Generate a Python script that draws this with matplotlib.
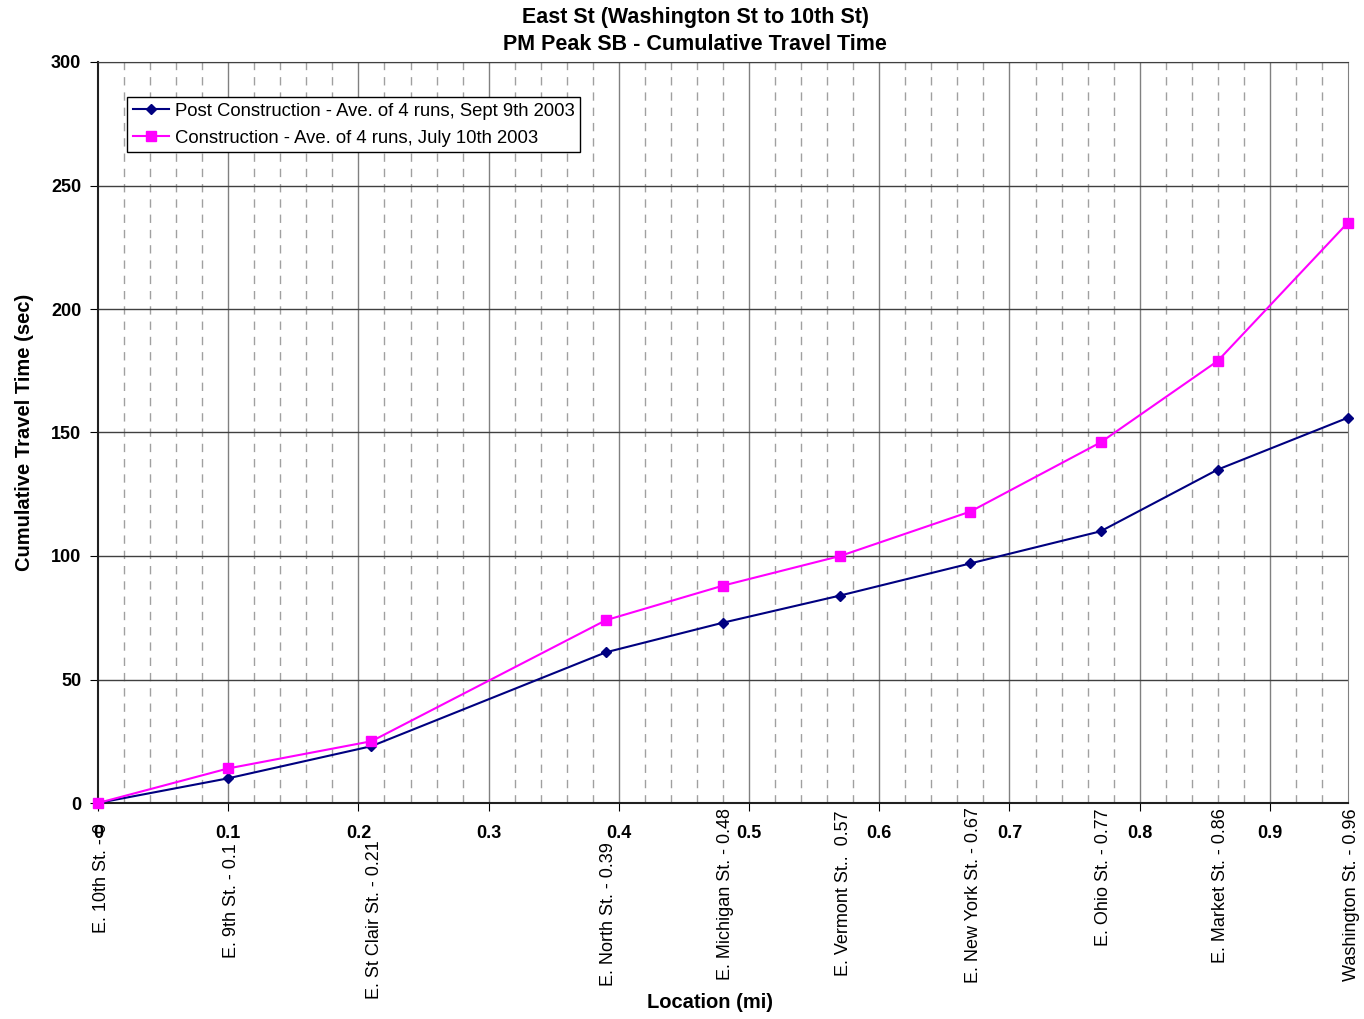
import numpy as np
import matplotlib
matplotlib.use("Agg")
import matplotlib.pyplot as plt
import matplotlib.transforms as mtransforms

plt.rcParams['font.family'] = ['Liberation Sans', 'DejaVu Sans']

# data
location_mi = [0, 0.1, 0.21, 0.39, 0.48, 0.57, 0.67, 0.77, 0.86, 0.96]
location_names = ["E. 10th St. - 0", "E. 9th St. - 0.1", "E. St Clair St. - 0.21",
                  "E. North St. - 0.39", "E. Michigan St. - 0.48", "E. Vermont St..  0.57",
                  "E. New York St. - 0.67", "E. Ohio St. - 0.77", "E. Market St. - 0.86",
                  "Washington St. - 0.96"]
post_construction = [0, 10, 23, 61, 73, 84, 97, 110, 135, 156]
construction = [0, 14, 25, 74, 88, 100, 118, 146, 179, 235]

# top of each rotated name label (px from figure top); pushed down where it meets a tick label
label_top_px = [823, 843, 840, 842, 808, 810, 807, 808, 808, 808]

W, H = 1364, 1019
fig = plt.figure(figsize=(W / 100, H / 100), dpi=100)
ax = fig.add_axes([98 / W, 1 - 803 / H, 1250 / W, 741 / H])

ax.set_xlim(0, 0.96)
ax.set_ylim(0, 300)

# grid: dashed minor verticals every 0.02, solid majors every 0.1
for xv in np.arange(0.02, 0.96, 0.02):
    if abs(xv / 0.1 - round(xv / 0.1)) < 1e-6:
        continue
    ax.axvline(xv, color="#a0a0a0", lw=1.0, ls=(0, (6, 5)), zorder=0)
for xv in np.arange(0.1, 0.95, 0.1):
    ax.axvline(xv, color="#808080", lw=1.0, zorder=0)
for yv in range(50, 301, 50):
    ax.axhline(yv, color="#404040", lw=1.0, zorder=0)

ax.plot(location_mi, post_construction, color="#000080", marker="D", ms=5.5, lw=1.5,
        label="Post Construction - Ave. of 4 runs, Sept 9th 2003", zorder=3, clip_on=False)
ax.plot(location_mi, construction, color="#FF00FF", marker="s", ms=7, lw=1.5,
        label="Construction - Ave. of 4 runs, July 10th 2003", zorder=3, clip_on=False)

ax.set_xticks(np.arange(0, 0.95, 0.1))
ax.set_xticklabels(["0"] + [f"{v:.1f}" for v in np.arange(0.1, 0.95, 0.1)],
                   fontsize=13, fontweight="bold")
ax.set_yticks(range(0, 301, 50))
ax.set_yticklabels([str(v) for v in range(0, 301, 50)], fontsize=13, fontweight="bold")
ax.tick_params(axis="x", direction="out", length=6, pad=10)
ax.tick_params(axis="y", direction="out", length=6, pad=6)

for s in ["left", "bottom"]:
    ax.spines[s].set_color("#202020")
    ax.spines[s].set_linewidth(1.5)
ax.spines["top"].set_color("#404040")
ax.spines["right"].set_color("#808080")

# location names under the axis (nudged a few px right, as in the source)
trans = mtransforms.offset_copy(
    mtransforms.blended_transform_factory(ax.transData, fig.transFigure),
    fig=fig, x=3, y=0, units="dots")
for xv, name, top in zip(location_mi, location_names, label_top_px):
    ax.text(xv, 1 - top / H, name, rotation=90, ha="center", va="top",
            fontsize=13, transform=trans)

fig.text(710 / W, 1 - 1002 / H, "Location (mi)", ha="center", va="center",
         fontsize=14.5, fontweight="bold")
ax.set_ylabel("Cumulative Travel Time (sec)", fontsize=14.5, fontweight="bold", labelpad=12)

fig.text(695 / W, 1 - 31 / H, "East St (Washington St to 10th St)\nPM Peak SB - Cumulative Travel Time",
         ha="center", va="center", fontsize=15.5, fontweight="bold", linespacing=1.32)

leg = ax.legend(loc="upper left", bbox_to_anchor=(29 / 1250, 1 - 35 / 741), fontsize=13.3,
                frameon=True, fancybox=False, edgecolor="black", framealpha=1,
                borderpad=0.3, handlelength=2.0, handletextpad=0.3, labelspacing=0.55,
                borderaxespad=0)
leg.get_frame().set_linewidth(1.0)

fig.savefig("out.png", dpi=100)
